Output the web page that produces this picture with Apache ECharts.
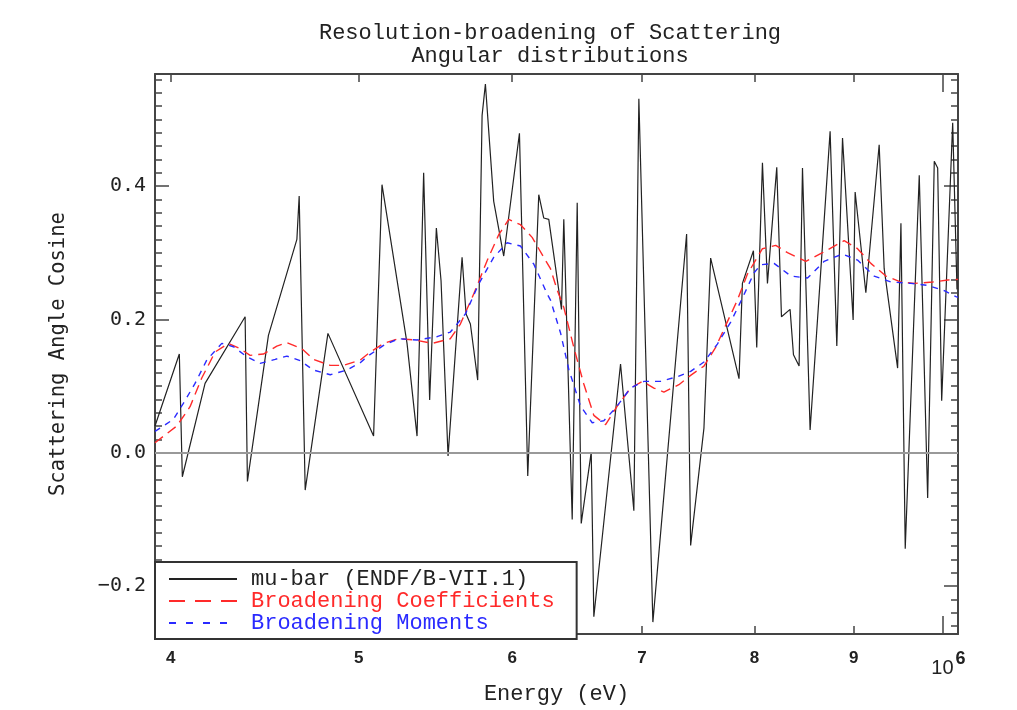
<!DOCTYPE html>
<html><head><meta charset="utf-8">
<script src="https://cdn.jsdelivr.net/npm/echarts@6/dist/echarts.min.js"></script>
<style>html,body{margin:0;padding:0;background:#fff}#c{width:1017px;height:710px}</style>
</head><body><div id="c"></div>
<script>
// Energy (eV) and mu-bar values
const muE = [392600,404100,405550,416640,436940,438130,449200,464630,465900,469240,482080,508930,514040,529550,535880,540100,543970,548310,551370,555980,565310,568010,570920,575890,578910,581190,586950,593970,605160,611160,619200,622890,626600,636140,637880,644280,648120,651210,659000,661040,682340,693210,697340,709040,738020,741550,753360,759380,785390,788570,798950,802090,807550,812360,821390,826000,834480,837860,843460,846870,854560,875110,882100,888100,899360,901500,913040,927590,933120,948140,951870,956740,972800,982560,990300,994310,999050,1012200,1017390];
const muV = [0.040,0.148,-0.036,0.104,0.204,-0.043,0.176,0.320,0.385,-0.056,0.179,0.025,0.402,0.164,0.025,0.420,0.079,0.337,0.258,-0.005,0.293,0.208,0.193,0.109,0.506,0.553,0.377,0.295,0.479,-0.035,0.387,0.352,0.350,0.215,0.350,-0.100,0.375,-0.106,0.001,-0.246,0.133,-0.087,0.531,-0.254,0.328,-0.139,0.037,0.292,0.111,0.254,0.303,0.158,0.435,0.254,0.428,0.204,0.215,0.147,0.130,0.427,0.034,0.482,0.160,0.472,0.199,0.391,0.240,0.462,0.276,0.127,0.344,-0.144,0.416,-0.068,0.437,0.427,0.078,0.495,0.245];

const coefE = [392600,402860,409280,415010,421630,428350,434350,439540,446540,453710,459140,467400,473890,483400,491110,500950,506940,515020,524290,534800,545520,557500,564170,573160,582360,590450,597510,605880,614360,622890,627880,632890,637880,645500,653220,661040,670300,679670,690500,700170,709890,718380,731300,741550,753360,763910,773070,783900,793280,807550,820420,831920,850200,867250,889790,904080,918490,935010,951870,967040,988420,1006200,1018600];
const coefV = [0.015,0.040,0.069,0.112,0.151,0.164,0.156,0.146,0.148,0.160,0.165,0.156,0.140,0.131,0.131,0.139,0.151,0.164,0.171,0.169,0.164,0.171,0.193,0.238,0.288,0.327,0.350,0.342,0.323,0.293,0.276,0.244,0.218,0.158,0.103,0.056,0.042,0.070,0.097,0.107,0.097,0.091,0.102,0.116,0.130,0.158,0.191,0.229,0.268,0.306,0.311,0.300,0.287,0.300,0.318,0.306,0.284,0.265,0.256,0.254,0.256,0.259,0.260];

const momE = [392600,401240,406040,411720,417490,425000,430900,437820,444800,452800,459140,466460,473890,483400,493090,500950,504960,515020,524290,535880,548770,557500,567530,576580,586950,596380,605880,615530,625420,627880,635380,641680,650670,659780,668940,678290,690500,701500,715560,729910,741550,753360,765460,777690,788570,799600,805920,818760,835180,851920,868900,888100,904080,922100,940580,963250,982560,1002100,1016180,1018600];
const momV = [0.032,0.050,0.074,0.104,0.139,0.164,0.159,0.144,0.134,0.140,0.145,0.138,0.124,0.117,0.124,0.135,0.144,0.161,0.171,0.169,0.174,0.181,0.208,0.253,0.293,0.315,0.310,0.283,0.238,0.229,0.180,0.125,0.070,0.045,0.048,0.067,0.097,0.107,0.107,0.114,0.122,0.136,0.163,0.196,0.232,0.270,0.282,0.284,0.265,0.262,0.287,0.298,0.289,0.265,0.256,0.254,0.251,0.243,0.234,0.233];

const seriesNames = ['mu-bar (ENDF/B-VII.1)','Broadening Coefficients','Broadening Moments'];
const xTicks = [400000,500000,600000,700000,800000,900000,1000000];
const xDecadeTicks = [1000000];
const yTicks = [-0.2,0,0.2,0.4];
const yMinorTicks = [];
for (let k = -13; k <= 28; k++) { if (k % 10 !== 0) yMinorTicks.push(+(k * 0.02).toFixed(2)); }

const XMIN = 392600, XMAX = 1018600, YMIN = -0.272, YMAX = 0.568;
const frame = '#444';

function xAx(pos, ticks, len, showLine, showLabel) {
  return {
    type: 'log', logBase: 10, position: pos, min: XMIN, max: XMAX, gridIndex: 0,
    axisLine: { show: showLine, onZero: false, lineStyle: { color: frame, width: 2 } },
    axisTick: { show: true, inside: true, length: len, customValues: ticks, lineStyle: { color: frame, width: 1.5 } },
    axisLabel: showLabel ? {
      show: true, customValues: ticks, margin: 16, color: '#222',
      formatter: v => v >= 999999 ? '{b|10}{s|6}' : '{a|' + Math.round(v / 100000) + '}',
      rich: {
        a: { fontFamily: 'Liberation Sans', fontWeight: 'bold', fontSize: 17, color: '#222', lineHeight: 28, verticalAlign: 'top' },
        b: { fontFamily: 'Liberation Sans', fontSize: 20, color: '#222', lineHeight: 28, verticalAlign: 'bottom', padding: [0, 2, 0, 12] },
        s: { fontFamily: 'Liberation Sans', fontWeight: 'bold', fontSize: 18, color: '#222', lineHeight: 28, verticalAlign: 'top' }
      }
    } : { show: false },
    splitLine: { show: false }, minorTick: { show: false }, minorSplitLine: { show: false }
  };
}
function yAx(pos, ticks, len, showLine, showLabel) {
  return {
    type: 'value', position: pos, min: YMIN, max: YMAX, gridIndex: 0,
    axisLine: { show: showLine, onZero: false, lineStyle: { color: frame, width: 2 } },
    axisTick: { show: true, inside: true, length: len, customValues: ticks, lineStyle: { color: frame, width: 1.5 } },
    axisLabel: showLabel ? {
      show: true, customValues: ticks, margin: 9, color: '#222',
      fontFamily: 'DejaVu Sans Mono', fontSize: 20,
      formatter: v => (v < -1e-9 ? '\u2212' : '') + Math.abs(v).toFixed(1)
    } : { show: false },
    splitLine: { show: false }
  };
}

const xAxes = [xAx('bottom', xTicks, 8, true, true), xAx('bottom', xDecadeTicks, 18, false, false),
               xAx('top', xTicks, 8, true, false), xAx('top', xDecadeTicks, 18, false, false)];
xAxes[0].name = 'Energy (eV)';
xAxes[0].nameLocation = 'middle';
xAxes[0].nameGap = 47;
xAxes[0].nameTextStyle = { fontFamily: 'Liberation Mono', fontSize: 22, color: '#222' };

const yAxes = [yAx('left', yTicks, 14, true, true), yAx('left', yMinorTicks, 7, false, false),
               yAx('right', yTicks, 14, true, false), yAx('right', yMinorTicks, 7, false, false)];
yAxes[0].name = 'Scattering Angle Cosine';
yAxes[0].nameLocation = 'middle';
yAxes[0].nameGap = 86;
yAxes[0].nameTextStyle = { fontFamily: 'DejaVu Sans Mono', fontSize: 20.5, color: '#222' };

const chart = echarts.init(document.getElementById('c'), null, { renderer: 'canvas' });
chart.setOption({
  animation: false,
  backgroundColor: '#fff',
  grid: { left: 155, right: 59, top: 74, bottom: 71, show: false },
  graphic: [{
    type: 'text', x: 550, y: 22,
    style: { text: 'Resolution-broadening of Scattering\nAngular distributions', align: 'center', textAlign: 'center',
             verticalAlign: 'top', font: '22px "Liberation Mono"', fill: '#222', lineHeight: 23 }
  }],
  legend: {
    orient: 'vertical', left: 155, bottom: 71, z: 10,
    backgroundColor: '#fff', borderColor: '#333', borderWidth: 2, borderRadius: 0,
    padding: [6, 22, 5, 13], itemWidth: 68, itemHeight: 14, itemGap: 0,
    itemStyle: { opacity: 0 },
    textStyle: { fontFamily: 'Liberation Mono', fontSize: 22, padding: [0, 0, 0, 9] },
    data: [
      { name: seriesNames[0], textStyle: { color: '#222' } },
      { name: seriesNames[1], textStyle: { color: '#ff2a2a' }, lineStyle: { type: [16, 10] } },
      { name: seriesNames[2], textStyle: { color: '#2a2aff' }, lineStyle: { type: [7, 10] } }
    ]
  },
  xAxis: xAxes,
  yAxis: yAxes,
  series: [
    {
      name: seriesNames[0], type: 'line', xAxisIndex: 0, yAxisIndex: 0, symbol: 'none', z: 3,
      data: muE.map((e, i) => [e, muV[i]]),
      lineStyle: { color: '#222', width: 1.2 }, itemStyle: { color: '#222' },
      markLine: { silent: true, symbol: 'none', label: { show: false }, animation: false,
        lineStyle: { color: '#999', width: 2, type: 'solid' }, data: [{ yAxis: 0 }] }
    },
    {
      name: seriesNames[1], type: 'line', xAxisIndex: 0, yAxisIndex: 0, symbol: 'none', z: 4,
      data: coefE.map((e, i) => [e, coefV[i]]),
      lineStyle: { color: '#ff2a2a', width: 1.4, type: [10, 6] }, itemStyle: { color: '#ff2a2a' }
    },
    {
      name: seriesNames[2], type: 'line', xAxisIndex: 0, yAxisIndex: 0, symbol: 'none', z: 4,
      data: momE.map((e, i) => [e, momV[i]]),
      lineStyle: { color: '#2a2aff', width: 1.4, type: [6, 6] }, itemStyle: { color: '#2a2aff' }
    }
  ]
});
</script></body></html>
